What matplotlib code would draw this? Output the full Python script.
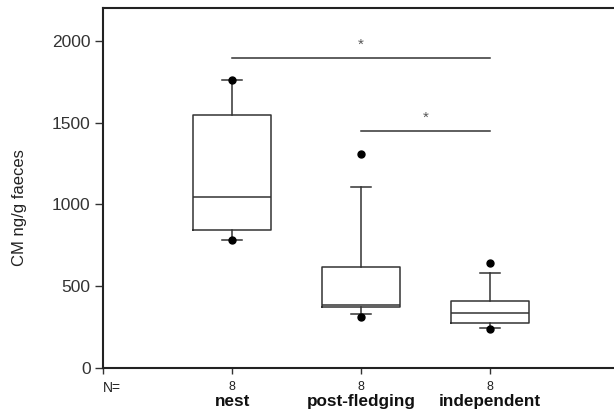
import matplotlib
matplotlib.use("Agg")
import matplotlib.pyplot as plt

# data
groups = ["nest", "post-fledging", "independent"]
n_labels = ["8", "8", "8"]
q1 = [841, 372, 274]
med = [1043, 384, 335]
q3 = [1543, 616, 408]
whislo = [780, 329, 244]
whishi = [1762, 1104, 579]
fliers = [[1762, 780], [1305, 311], [640, 238]]

# significance bars: (from group, to group, y of line)
sig_bars = [(0, 2, 1896), (1, 2, 1451)]

plt.rcParams['font.family'] = ['Liberation Sans', 'DejaVu Sans']

fig = plt.figure(figsize=(6.14, 4.15), dpi=100)
ax = fig.add_axes([0.168, 0.113, 0.84, 0.868])

stats = []
for i in range(len(groups)):
    stats.append(dict(q1=q1[i], med=med[i], q3=q3[i],
                      whislo=whislo[i], whishi=whishi[i], fliers=fliers[i]))

pos = [1, 2, 3]
ax.bxp(stats, positions=pos, widths=0.6, showfliers=True,
       boxprops=dict(color="#333333", linewidth=1.1),
       medianprops=dict(color="#333333", linewidth=1.1),
       whiskerprops=dict(color="#333333", linewidth=1.1),
       capprops=dict(color="#333333", linewidth=1.1),
       capwidths=0.16,
       flierprops=dict(marker="o", markerfacecolor="black",
                       markeredgecolor="black", markersize=5))

for a, b, y in sig_bars:
    ax.plot([pos[a], pos[b]], [y, y], color="#333333", linewidth=1.1)
    ax.text((pos[a] + pos[b]) / 2, y + 35, "*", ha="center", va="bottom",
            fontsize=11, color="#555555")

ax.set_xlim(0, 4)
ax.set_ylim(0, 2200)
ax.set_yticks([0, 500, 1000, 1500, 2000])
ax.set_xticks([0] + pos)
ax.set_xticklabels([])
for spine in ["left", "bottom", "top"]:
    ax.spines[spine].set_linewidth(1.5)
    ax.spines[spine].set_color("#222222")
ax.spines["right"].set_visible(False)
ax.tick_params(axis="both", colors="#333333", labelsize=12.5, width=1)
ax.tick_params(axis="y", length=6, pad=3)
ax.tick_params(axis="x", length=4)

for i, p in enumerate(pos):
    ax.text(p, -0.035, n_labels[i], transform=ax.get_xaxis_transform(),
            ha="center", va="top", fontsize=9, color="#222222")
    ax.text(p, -0.072, groups[i], transform=ax.get_xaxis_transform(),
            ha="center", va="top", fontsize=12.3, fontweight="bold", color="#111111")
ax.text(-0.002, -0.035, "N=", transform=ax.get_xaxis_transform(),
        ha="left", va="top", fontsize=10, color="#222222")

ax.set_ylabel("CM ng/g faeces", fontsize=12, color="#222222")
ax.yaxis.set_label_coords(-0.148, 0.447)

fig.savefig("out.png", dpi=100)
